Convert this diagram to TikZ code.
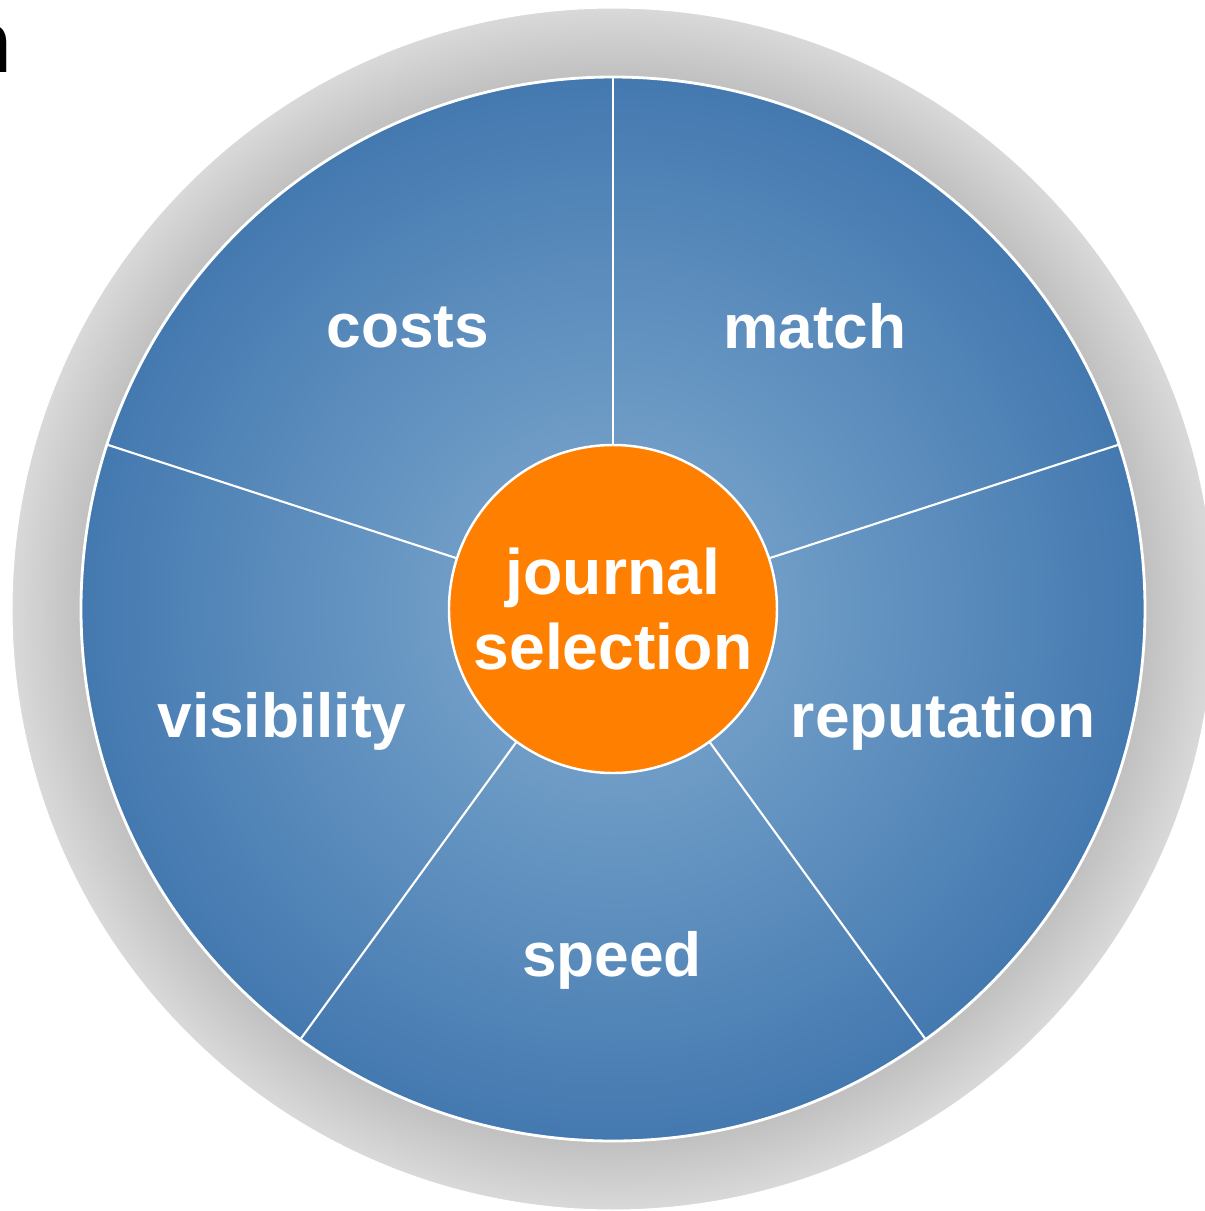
\documentclass[tikz,border=0pt]{standalone}
\usepackage{fontspec}
\setmainfont{Liberation Sans}
\usetikzlibrary{positioning}
\definecolor{wheelblue}{HTML}{4479B0}
\definecolor{wheellight}{HTML}{6E9CC6}
\definecolor{huborange}{HTML}{FF8000}
\definecolor{ringdark}{HTML}{BFBFBF}
\definecolor{ringlight}{HTML}{D9D9D9}
\pgfdeclareradialshading{ringshade}{\pgfpoint{0bp}{0bp}}{color(0bp)=(ringdark); color(22bp)=(ringdark); color(25bp)=(ringlight); color(50bp)=(ringlight)}
\pgfdeclareradialshading{wheelshade}{\pgfpoint{0bp}{0bp}}{color(0bp)=(wheellight); color(8bp)=(wheellight); color(25bp)=(wheelblue); color(50bp)=(wheelblue)}

\begin{document}
\begin{tikzpicture}[petaltext/.style={text=white,font=\fontsize{17.7}{21.6}\selectfont\bfseries,inner sep=0pt,anchor=base}, spokeline/.style={white,line width=0.6pt}, disc/.style={circle,inner sep=0pt,outer sep=0pt,draw=white}]
		\useasboundingbox (-6.13,-6.02) rectangle (5.92,6.09);
		\node[font=\fontsize{25}{30}\selectfont\bfseries,inner sep=0pt,anchor=base east] (cutoff) at (-6.0,5.37) {n};

		\node[disc,minimum size=12.02cm,shading=ringshade,line width=0.3pt] (ring) at (0,0) {};
		\node[disc,minimum size=10.64cm,shading=wheelshade,line width=0.8pt] (wheel) at (0,0) {};
		\node[disc,minimum size=3.28cm,fill=huborange,line width=0.7pt] (hub) at (0,0) {};

		\foreach \a in {18,90,162,234,306} \draw[spokeline] (hub.\a) -- (wheel.\a);

		\node[petaltext,font=\fontsize{18.3}{21.6}\selectfont\bfseries,align=center,anchor=center] (hubtext) at (0,0) {journal\\selection};
		\node[petaltext] (costs) at (-2.05,2.62) {costs};
		\node[petaltext] (match) at (2.02,2.61) {match};
		\node[petaltext] (visibility) at (-3.31,-1.28) {visibility};
		\node[petaltext] (reputation) at (3.30,-1.28) {reputation};
		\node[petaltext] (speed) at (-0.01,-3.67) {speed};
\end{tikzpicture}
\end{document}
